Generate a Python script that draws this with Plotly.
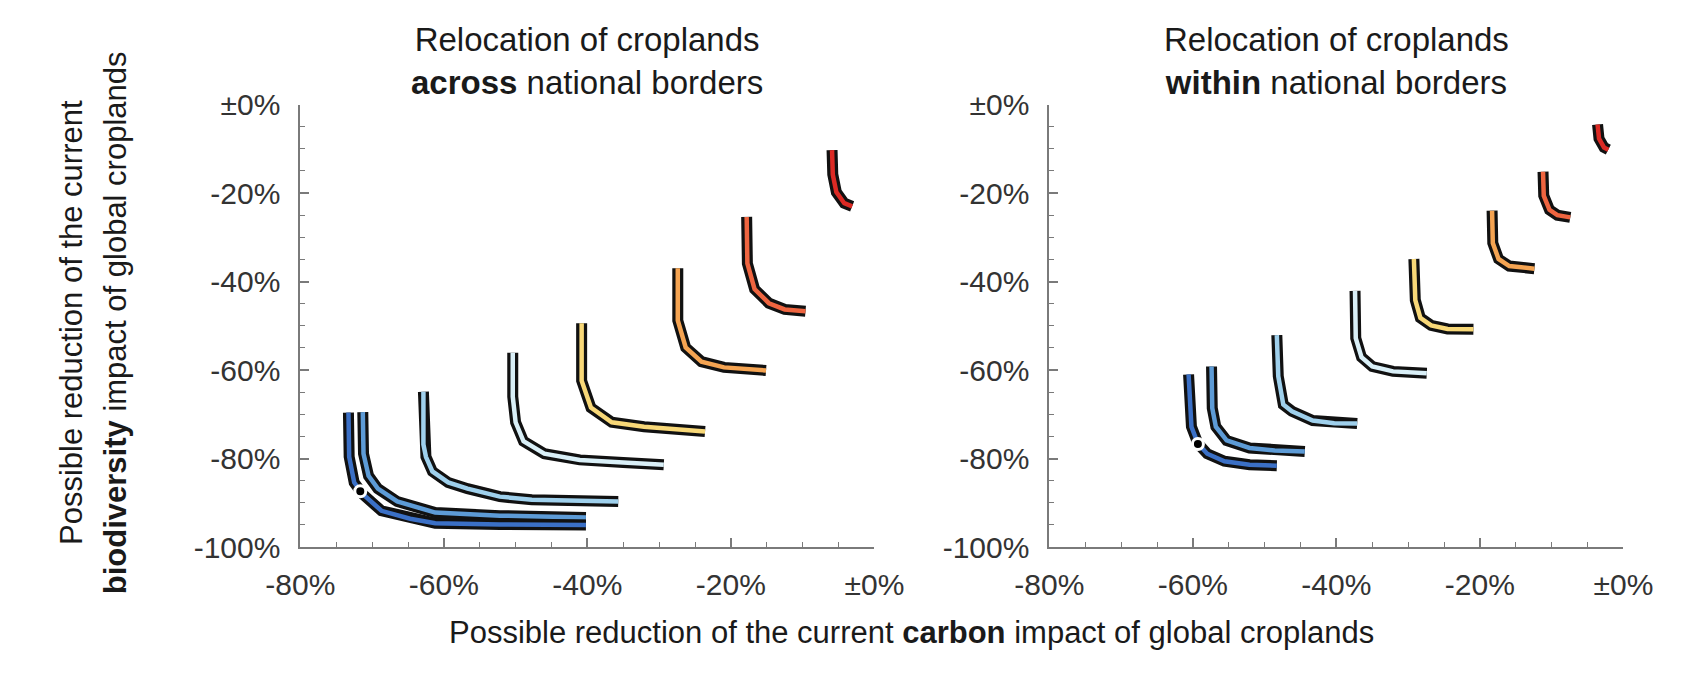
import plotly.graph_objects as go

# ---------------- data ----------------
x_tickvals = [-80, -60, -40, -20, 0]
x_ticktext = ["-80%", "-60%", "-40%", "-20%", "±0%"]
y_tickvals = [-100, -80, -60, -40, -20, 0]
y_ticktext = ["-100%", "-80%", "-60%", "-40%", "-20%", "±0%"]

curve_names = ["dark blue", "medium blue", "light blue", "pale blue",
               "yellow", "orange", "orange-red", "red"]

# Relocation ACROSS national borders (left panel)
across_x_1 = [-73.3, -73.2, -72.5, -71.4, -68.7, -64.7, -61.2, -52.2, -40.2]
across_y_1 = [-69.6, -79.6, -85.4, -87.9, -91.8, -93.6, -94.6, -94.9, -95.0]
across_x_2 = [-71.3, -71.2, -70.5, -69.2, -66.5, -61.2, -52.2, -40.2]
across_y_2 = [-69.5, -78.9, -83.9, -86.8, -89.7, -92.2, -92.9, -93.3]
across_x_3 = [-62.85, -62.85, -62.5, -61.6, -59.4, -56.7, -52.2, -47.75, -35.7]
across_y_3 = [-64.9, -76.8, -79.6, -82.9, -85.4, -86.8, -88.6, -89.3, -89.7]
across_x_4 = [-50.4, -50.4, -50.0, -48.9, -46.0, -41.05, -35.0, -29.35]
across_y_4 = [-56.1, -66.0, -71.8, -76.1, -78.9, -80.3, -80.9, -81.4]
across_x_5 = [-40.8, -40.8, -39.5, -36.6, -32.1, -23.6]
across_y_5 = [-49.4, -62.4, -68.5, -71.8, -72.8, -73.9]
across_x_6 = [-27.4, -27.4, -26.3, -24.1, -20.95, -15.1]
across_y_6 = [-37.0, -48.8, -54.9, -58.1, -59.4, -60.1]
across_x_7 = [-17.8, -17.7, -16.7, -14.7, -12.5, -9.6]
across_y_7 = [-25.4, -35.9, -41.7, -44.9, -46.3, -46.7]
across_x_8 = [-5.9, -5.8, -5.3, -4.2, -3.1]
across_y_8 = [-10.3, -15.8, -19.8, -22.3, -23.0]
across_current = (-71.65, -87.4)

# Relocation WITHIN national borders (right panel)
within_x_1 = [-60.6, -60.4, -60.2, -59.3, -58.0, -55.6, -52.1, -48.3]
within_y_1 = [-61.0, -68.6, -72.8, -76.6, -78.9, -80.6, -81.4, -81.6]
within_x_2 = [-57.4, -57.3, -56.8, -55.3, -52.1, -48.6, -44.4]
within_y_2 = [-59.2, -68.6, -72.8, -75.9, -77.6, -78.2, -78.4]
within_x_3 = [-48.3, -48.1, -47.4, -46.2, -43.3, -40.3, -37.1]
within_y_3 = [-52.1, -61.4, -67.8, -69.3, -71.4, -72.0, -72.1]
within_x_4 = [-37.4, -37.3, -36.5, -35.0, -32.1, -27.4]
within_y_4 = [-42.1, -52.8, -57.1, -59.2, -60.3, -60.7]
within_x_5 = [-29.2, -29.0, -28.3, -26.8, -24.5, -20.9]
within_y_5 = [-34.9, -44.2, -48.2, -49.9, -50.7, -50.8]
within_x_6 = [-18.3, -18.2, -17.4, -15.9, -12.4]
within_y_6 = [-24.0, -31.3, -34.9, -36.5, -37.1]
within_x_7 = [-11.2, -11.1, -10.3, -9.2, -7.4]
within_y_7 = [-15.2, -20.6, -23.8, -25.0, -25.5]
within_x_8 = [-3.6, -3.4, -2.7, -2.1]
within_y_8 = [-4.5, -7.7, -9.7, -10.2]
within_current = (-59.3, -76.7)

# ---------------- styles ----------------
curve_colors = ["#3b70c6", "#5d9bd6", "#9fd0ec", "#d9eff7",
                "#f8d878", "#f5a452", "#ef6540", "#dc2a24"]
FONT = "Liberation Sans, Arial, Helvetica, sans-serif"
W, H = 1688, 684

across = [(across_x_1, across_y_1), (across_x_2, across_y_2), (across_x_3, across_y_3),
          (across_x_4, across_y_4), (across_x_5, across_y_5), (across_x_6, across_y_6),
          (across_x_7, across_y_7), (across_x_8, across_y_8)]
within = [(within_x_1, within_y_1), (within_x_2, within_y_2), (within_x_3, within_y_3),
          (within_x_4, within_y_4), (within_x_5, within_y_5), (within_x_6, within_y_6),
          (within_x_7, within_y_7), (within_x_8, within_y_8)]

fig = go.Figure()

for curves, cur, xa, ya in [(across, across_current, "x", "y"),
                            (within, within_current, "x2", "y2")]:
    for i in reversed(range(len(curves))):
        xs, ys = curves[i]
        fig.add_trace(go.Scatter(x=xs, y=ys, mode="lines", xaxis=xa, yaxis=ya,
                                 line=dict(color="#111111", width=11),
                                 hoverinfo="skip", showlegend=False))
        fig.add_trace(go.Scatter(x=xs, y=ys, mode="lines", xaxis=xa, yaxis=ya,
                                 name=curve_names[i],
                                 line=dict(color=curve_colors[i], width=4.5),
                                 showlegend=False))
    fig.add_trace(go.Scatter(x=[cur[0]], y=[cur[1]], mode="markers", xaxis=xa, yaxis=ya,
                             marker=dict(color="black", size=11,
                                         line=dict(color="white", width=3)),
                             showlegend=False))

L_dom = [276 / W, 873 / W]
R_dom = [1055 / W, 1652 / W]
Y_dom = [1 - 558 / H, 1 - 93 / H]

axis_common = dict(showgrid=False, zeroline=False, showline=True,
                   linecolor="#7a7a7a", linewidth=2,
                   ticks="inside", ticklen=9, tickwidth=1.5, tickcolor="#7a7a7a",
                   tickfont=dict(family=FONT, size=30, color="#333333"),
                   minor=dict(ticks="inside", ticklen=5, tickwidth=1.2,
                              tickcolor="#7a7a7a", dtick=5, showgrid=False),
                   fixedrange=True)

title_font = dict(family=FONT, size=33, color="#1a1a1a")
axis_title_font = dict(family=FONT, size=31, color="#1a1a1a")

fig.update_layout(
    width=W, height=H,
    margin=dict(l=0, r=0, t=0, b=0),
    paper_bgcolor="white", plot_bgcolor="white",
    xaxis=dict(domain=L_dom, range=[-80, 0], tickvals=x_tickvals, ticktext=x_ticktext,
               anchor="y", ticklabelstandoff=10, **axis_common),
    yaxis=dict(domain=Y_dom, range=[-100, 0], tickvals=y_tickvals, ticktext=y_ticktext,
               anchor="x", ticklabelstandoff=12, **axis_common),
    xaxis2=dict(domain=R_dom, range=[-80, 0], tickvals=x_tickvals, ticktext=x_ticktext,
                anchor="y2", ticklabelstandoff=10, **axis_common),
    yaxis2=dict(domain=Y_dom, range=[-100, 0], tickvals=y_tickvals, ticktext=y_ticktext,
                anchor="x2", ticklabelstandoff=12, **axis_common),
    annotations=[
        dict(text="Relocation of croplands<br><b>across</b> national borders",
             x=(L_dom[0] + L_dom[1]) / 2, y=1 - 47 / H, xref="paper", yref="paper",
             showarrow=False, xanchor="center", yanchor="middle", font=title_font),
        dict(text="Relocation of croplands<br><b>within</b> national borders",
             x=(R_dom[0] + R_dom[1]) / 2, y=1 - 47 / H, xref="paper", yref="paper",
             showarrow=False, xanchor="center", yanchor="middle", font=title_font),
        dict(text="Possible reduction of the current <b>carbon</b> impact of global croplands",
             x=912 / W, y=1 - 648 / H, xref="paper", yref="paper",
             showarrow=False, xanchor="center", yanchor="middle", font=axis_title_font),
        dict(text="Possible reduction of the current",
             x=38 / W, y=1 - 322 / H, xref="paper", yref="paper", textangle=-90,
             showarrow=False, xanchor="center", yanchor="middle", font=axis_title_font),
        dict(text="<b>biodiversity</b> impact of global croplands",
             x=84 / W, y=1 - 322 / H, xref="paper", yref="paper", textangle=-90,
             showarrow=False, xanchor="center", yanchor="middle", font=axis_title_font),
    ],
)

fig.write_html("out.html")
